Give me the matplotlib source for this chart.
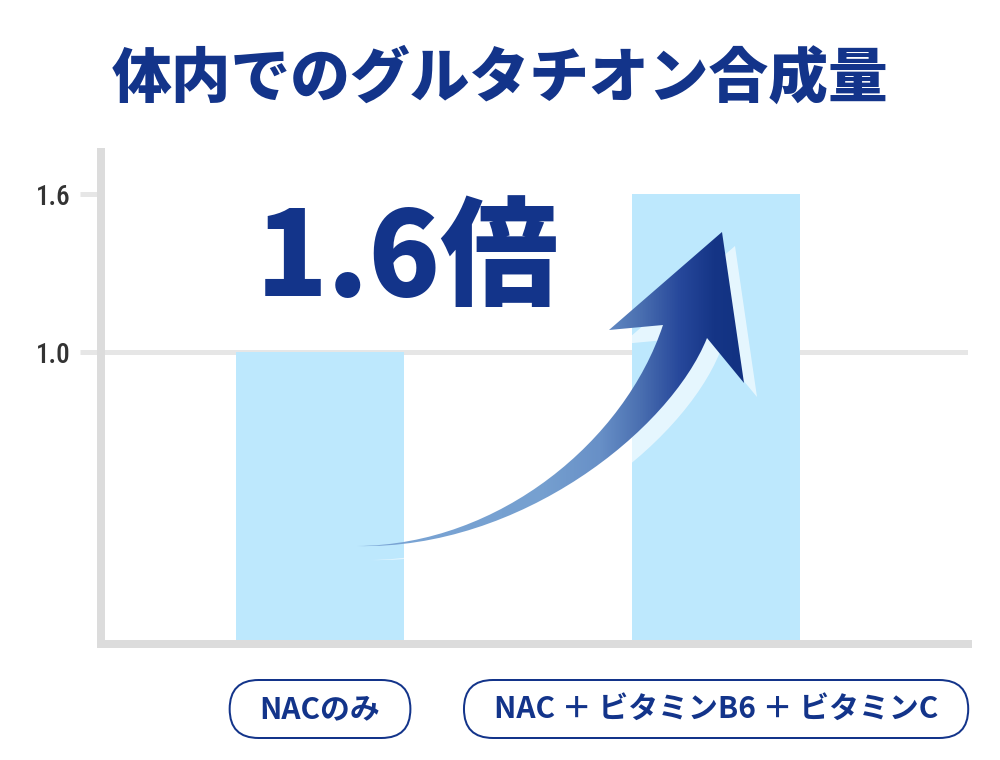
import numpy as np
import matplotlib
matplotlib.use("Agg")
import matplotlib.pyplot as plt
from matplotlib.path import Path
from matplotlib.patches import PathPatch, FancyBboxPatch
from matplotlib.colors import LinearSegmentedColormap

plt.rcParams['font.family'] = ['Noto Sans CJK JP', 'DejaVu Sans']

# データ
title = "体内でのグルタチオン合成量"
categories = ["NACのみ", "NAC ＋ ビタミンB6 ＋ ビタミンC"]
values = [1.0, 1.6]
ytick_values = [1.0, 1.6]
ytick_labels = ["1.0", "1.6"]
ratio_label = "1.6倍"

# スタイル
NAVY = "#13348a"
BAR = "#bde8fd"
AXIS = "#dcdcdc"
GRID = "#e6e6e6"
ymin, ymax = -0.109, 1.76
px = 72 / 100  # pt per pixel

fig = plt.figure(figsize=(10, 7.6), dpi=100)
fig.patch.set_facecolor("white")

# 1. 棒グラフ本体
ax = fig.add_axes([101 / 1000, 116 / 760, 867 / 1000, 492 / 760])
x = np.arange(len(values))
ax.bar(x, [v - ymin for v in values], bottom=ymin, width=0.424,
       color=BAR, zorder=1)
ax.axhline(1.0, color=GRID, lw=5 * px, zorder=0.5)
ax.set_xlim(-0.553, 1.636)
ax.set_ylim(ymin, ymax)
ax.set_xticks([])
ax.set_yticks(ytick_values)
ax.set_yticklabels(ytick_labels, family=['Roboto Condensed', 'Roboto'],
                   fontsize=19.5, weight='medium', color="#333333")
ax.tick_params(axis='y', length=21 * px, width=5 * px, color=GRID, pad=7)
for s in ["top", "right"]:
    ax.spines[s].set_visible(False)
for s in ["left", "bottom"]:
    ax.spines[s].set_color(AXIS)
    ax.spines[s].set_linewidth(8 * px)
    ax.spines[s].set_capstyle("projecting")

# 2. 上に重ねる装飾レイヤー (ピクセル座標)
ov = fig.add_axes([0, 0, 1, 1], zorder=5)
ov.patch.set_alpha(0)

ov.text(500, 97, title, ha='center', va='baseline', fontsize=43,
        weight='heavy', color=NAVY)
ov.text(407, 296, ratio_label, ha='center', va='baseline', fontsize=85,
        weight='heavy', color=NAVY)

# 矢印
tail = (357, 546)
arrow_verts = [tail, (500, 545), (625, 440), (663, 325),
               (609, 330), (722, 232), (744, 383), (707, 338),
               (670, 430), (520, 550), tail, tail]
arrow_codes = [Path.MOVETO, Path.CURVE4, Path.CURVE4, Path.CURVE4,
               Path.LINETO, Path.LINETO, Path.LINETO, Path.LINETO,
               Path.CURVE4, Path.CURVE4, Path.CURVE4, Path.CLOSEPOLY]
arrow_path = Path(arrow_verts, arrow_codes)
shadow_path = Path([(vx + 13, vy + 14) for vx, vy in arrow_verts], arrow_codes)
ov.add_patch(PathPatch(shadow_path, facecolor="white", alpha=0.62,
                       edgecolor="none", zorder=1))

clip = PathPatch(arrow_path, facecolor="none", edgecolor="none", transform=ov.transData)
ov.add_patch(clip)
cmap = LinearSegmentedColormap.from_list("arrow", [
    (0.0, "#7ba5d5"), (0.463, "#76a0d0"), (0.61, "#6890c7"),
    (0.707, "#4b70b1"), (0.805, "#27489b"), (0.89, "#153586"), (1.0, "#10307f")])
grad = np.linspace(0, 1, 512).reshape(1, -1)
im = ov.imshow(grad, extent=(350, 760, 560, 225), cmap=cmap, aspect='auto',
               interpolation='bilinear', zorder=2)
im.set_clip_path(clip)

ov.set_xlim(0, 1000)
ov.set_ylim(760, 0)
ov.axis('off')

# 3. カテゴリのラベル (角丸の枠)
renderer = fig.canvas.get_renderer()
for xi, label in zip(x, categories):
    cx = ax.transData.transform((xi, 0))[0]
    t = ov.text(cx, 709, label, ha='center', va='center', fontsize=21.5,
                weight='bold', color=NAVY)
    w = t.get_window_extent(renderer).width + 60
    ov.add_patch(FancyBboxPatch((cx - w / 2, 680), w, 58,
                                boxstyle="round,pad=0,rounding_size=29",
                                facecolor="white", edgecolor=NAVY, lw=2 * px,
                                zorder=0.5))

fig.savefig("out.png", dpi=100)
